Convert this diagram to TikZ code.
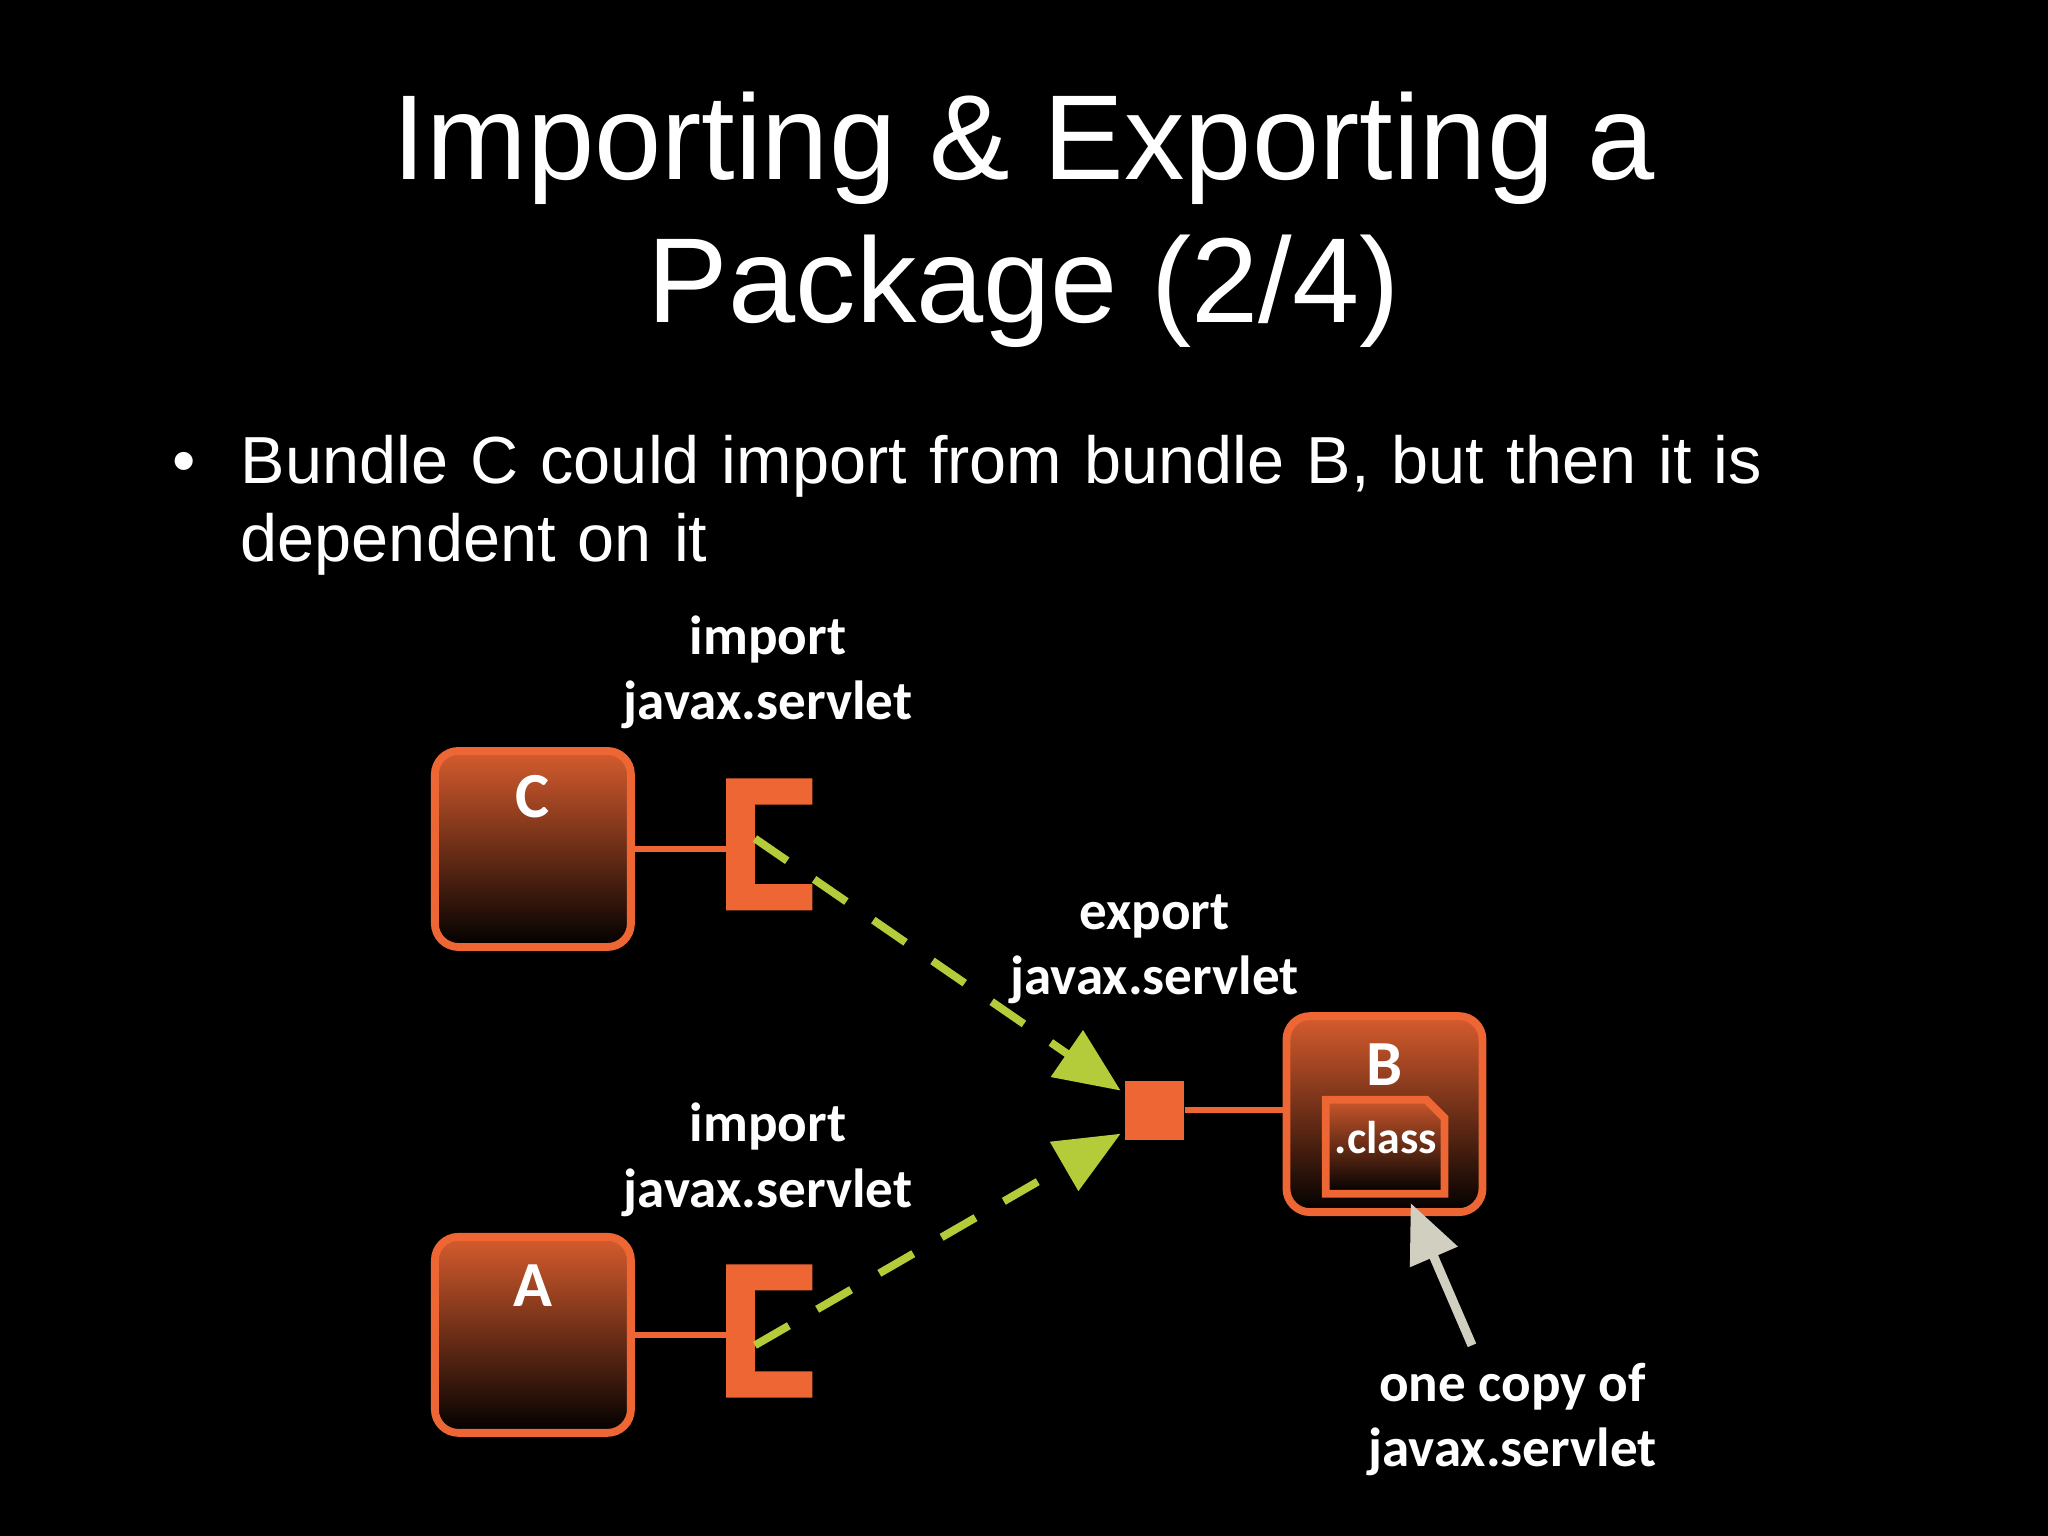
\documentclass[tikz,border=0pt]{standalone}
\usepackage{fontspec}
\setmainfont{Liberation Sans}
\newfontfamily\lbl{Carlito}
\usetikzlibrary{arrows.meta}
\definecolor{org}{HTML}{EE6633}
\definecolor{grn}{HTML}{B5CC3A}
\definecolor{gry}{HTML}{D0CFC0}
\begin{document}
\begin{tikzpicture}[x=0.01cm,y=-0.01cm,
  bundle/.style={draw=org,line width=0.06cm,rounded corners=0.18cm,top color=org!90!black,bottom color=black,minimum width=1.5cm,minimum height=1.5cm,inner sep=0pt},
  blab/.style={text=white,font=\lbl\bfseries\fontsize{14}{16}\selectfont},
  lab/.style={text=white,align=center,font=\lbl\bfseries\fontsize{12}{14.2}\selectfont},
  dep/.style={grn,line width=0.06cm,dash pattern=on 0.3cm off 0.25cm,-{Triangle[length=0.5cm,width=0.42cm]}},
  bracket/.style={fill=org}]
\fill[black] (0,0) rectangle (1568,1176);
\useasboundingbox (0,0) rectangle (1568,1176);
% title
\node[text=white,align=center,font=\fontsize{26.3}{31.2}\selectfont] (title) at (784,168) {Importing \& Exporting a\\Package (2/4)};
\node[text=white,anchor=base west,font=\fontsize{14.5}{17}\selectfont] (bul) at (120,370) {\textbullet};
\node[text=white,anchor=base west,align=left,font=\fontsize{14.5}{17}\selectfont,text width=13.5cm] (txt) at (172,370) {Bundle C could import from bundle B, but then it is\\dependent on it};
% bundles
\node[bundle] (C) at (408,650) {};
\node[blab] (Cl) at (408,610) {C};
\node[bundle] (A) at (408,1022) {};
\node[blab] (Al) at (408,984) {A};
\node[bundle] (B) at (1060,853) {};
\node[blab] (Bl) at (1060,815) {B};
% brackets
\fill[bracket] (556,596) -- (622,596) -- (622,616) -- (578,616) -- (578,677) -- (622,677) -- (622,697) -- (556,697) -- cycle;
\coordinate (Cb) at (558,650);
\coordinate (Cs) at (578,642);
\fill[bracket] (556,968) -- (622,968) -- (622,988) -- (578,988) -- (578,1050) -- (622,1050) -- (622,1070) -- (556,1070) -- cycle;
\coordinate (Ab) at (558,1022);
\coordinate (As) at (578,1030);
\draw[org,line width=0.05cm] (C.east) -- (Cb);
\draw[org,line width=0.05cm] (A.east) -- (Ab);
% export
\node[fill=org,minimum size=0.45cm,inner sep=0pt] (E) at (884,850) {};
\draw[org,line width=0.05cm] (E.east) -- (B.west |- E.east);
% class doc
\filldraw[draw=org,line width=0.06cm,top color=org!85!black,bottom color=black] (1015,842) -- (1092,842) -- (1106,856) -- (1106,914) -- (1015,914) -- cycle;
\node[text=white,font=\lbl\bfseries\fontsize{10}{12}\selectfont] (cls) at (1061,871) {.class};
% dependencies
\draw[dep] (Cs) -- (858,835);
\draw[dep] (As) -- (858,868);
\coordinate (gs) at (1127,1030);
\draw[gry,line width=0.07cm,-{Triangle[length=0.45cm,width=0.38cm]}] (gs) -- (1080,921);
% labels
\node[lab] (l1) at (588,515) {import\\javax.servlet};
\node[lab] (l2) at (588,888) {import\\javax.servlet};
\node[lab] (l3) at (884,727) {export\\javax.servlet};
\node[lab] (l4) at (1158,1087) {one copy of\\javax.servlet};
\end{tikzpicture}
\end{document}
